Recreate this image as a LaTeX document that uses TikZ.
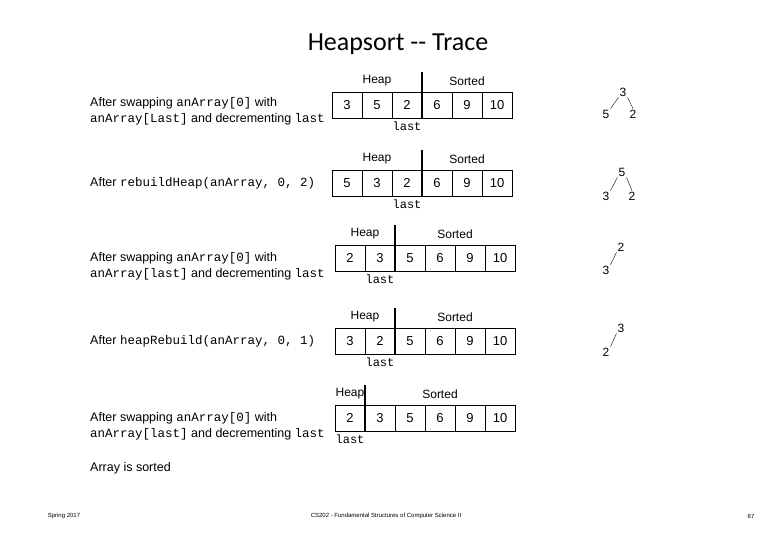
\documentclass[tikz,border=0pt]{standalone}
\usepackage{fontspec}
\setmainfont{Liberation Sans}
\setmonofont{Liberation Mono}
\newfontfamily\titlefont{Carlito}
\newcommand\cd[1]{{\ttfamily #1}}
\begin{document}
\begin{tikzpicture}[x=1pt,y=-1pt,
  cell/.style={draw,thick,minimum width=30pt,minimum height=26pt,inner sep=0,font=\fontsize{13}{13}\selectfont},
  lbl/.style={font=\fontsize{12}{12}\selectfont,inner sep=0},
  desc/.style={font=\fontsize{12.5}{16}\selectfont,inner sep=0,anchor=west,align=left},
  tr/.style={font=\fontsize{12}{12}\selectfont,inner sep=1pt},
  foot/.style={font=\fontsize{6}{6}\selectfont\rmfamily}]
\useasboundingbox (0,0) rectangle (780,540);
\node[desc] (d1) at (90,111) {After swapping \cd{anArray[0]} with\\\cd{anArray[Last]} and decrementing \cd{last}};
\node[desc] (d2) at (90,183) {After \cd{rebuildHeap(anArray, 0, 2)}};
\node[desc] (d3) at (90,266) {After swapping \cd{anArray[0]} with\\\cd{anArray[last]} and decrementing \cd{last}};
\node[desc] (d4) at (90,341) {After \cd{heapRebuild(anArray, 0, 1)}};
\node[desc] (d5) at (90,426) {After swapping \cd{anArray[0]} with\\\cd{anArray[last]} and decrementing \cd{last}};
\node[desc] (d6) at (90,468) {Array is sorted};
\newcommand\arrrow[5]{%
  \foreach \v [count=\i from 0] in {#4}{
    \node[cell] (#5c\i) at ({#1+15+30*\i},{#2+13}) {\v};}
  \draw[line width=2.5pt] ({#1+30*#3},{#2-20}) -- ({#1+30*#3},{#2+26});
  \node[lbl] (#5h) at ({#1+15*#3},{#2-11}) {Heap};
  \node[lbl] (#5s) at ({#1+30*#3+(180-30*#3)/2},{#2-11}) {Sorted};
  \node[lbl,font=\fontsize{12}{12}\ttfamily] (#5l) at ({#1+30*#3-15},{#2+34}) {last};
}
\node[font=\fontsize{26}{26}\titlefont] (title) at (398,44) {Heapsort -- Trace};

\arrrow{332}{92}{3}{3,5,2,6,9,10}{a}
\arrrow{332}{170}{3}{5,3,2,6,9,10}{b}
\arrrow{335}{245}{2}{2,3,5,6,9,10}{c}
\arrrow{335}{328}{2}{3,2,5,6,9,10}{d}
\arrrow{335}{405}{1}{2,3,5,6,9,10}{e}

\node[tr] (t1r) at (623,92) {3}; \node[tr] (t1a) at (606,114) {5}; \node[tr] (t1b) at (633,114) {2};
\draw (t1r.south west) -- (t1a.north east); \draw (t1r.south east) -- (t1b.north);
\node[tr] (t2r) at (622,172) {5}; \node[tr] (t2a) at (606,196) {3}; \node[tr] (t2b) at (632,196) {2};
\draw (t2r.south west) -- (t2a.north east); \draw (t2r.south east) -- (t2b.north);
\node[tr] (t3r) at (621,247) {2}; \node[tr] (t3a) at (606,270) {3};
\draw (t3r.south west) -- (t3a.north east);
\node[tr] (t4r) at (621,328) {3}; \node[tr] (t4a) at (606,352) {2};
\draw (t4r.south west) -- (t4a.north east);

\node[foot] (f1) at (64,516) {Spring 2017};
\node[foot] (f2) at (386,516) {CS202 - Fundamental Structures of Computer Science II};
\node[foot] (f3) at (751,516) {67};
\end{tikzpicture}
\end{document}
